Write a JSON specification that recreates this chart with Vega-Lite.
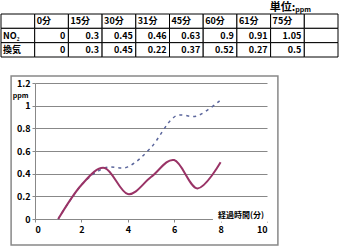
{
  "$schema": "https://vega.github.io/schema/vega-lite/v6.json",
  "padding": {"top": 2, "left": 0, "right": 0, "bottom": 0},
  "spacing": 17,
  "config": {"view": {"stroke": null}, "font": "Noto Sans CJK JP", "axisY": {"tickCount": 7}},
  "datasets": {
    "table": [
      {"r": "hdr", "c": "c0", "t": ""}, {"r": "hdr", "c": "c1", "t": "0分"}, {"r": "hdr", "c": "c2", "t": "15分"}, {"r": "hdr", "c": "c3", "t": "30分"}, {"r": "hdr", "c": "c4", "t": "31分"}, {"r": "hdr", "c": "c5", "t": "45分"}, {"r": "hdr", "c": "c6", "t": "60分"}, {"r": "hdr", "c": "c7", "t": "61分"}, {"r": "hdr", "c": "c8", "t": "75分"}, {"r": "hdr", "c": "c9", "t": ""},
      {"r": "no2", "c": "c0", "t": "NO₂"}, {"r": "no2", "c": "c1", "t": "0"}, {"r": "no2", "c": "c2", "t": "0.3"}, {"r": "no2", "c": "c3", "t": "0.45"}, {"r": "no2", "c": "c4", "t": "0.46"}, {"r": "no2", "c": "c5", "t": "0.63"}, {"r": "no2", "c": "c6", "t": "0.9"}, {"r": "no2", "c": "c7", "t": "0.91"}, {"r": "no2", "c": "c8", "t": "1.05"}, {"r": "no2", "c": "c9", "t": ""},
      {"r": "kan", "c": "c0", "t": "換気"}, {"r": "kan", "c": "c1", "t": "0"}, {"r": "kan", "c": "c2", "t": "0.3"}, {"r": "kan", "c": "c3", "t": "0.45"}, {"r": "kan", "c": "c4", "t": "0.22"}, {"r": "kan", "c": "c5", "t": "0.37"}, {"r": "kan", "c": "c6", "t": "0.52"}, {"r": "kan", "c": "c7", "t": "0.27"}, {"r": "kan", "c": "c8", "t": "0.5"}, {"r": "kan", "c": "c9", "t": ""}
    ],
    "series": [
      {"s": "NO2", "x": 1, "v": 0}, {"s": "NO2", "x": 2, "v": 0.3}, {"s": "NO2", "x": 3, "v": 0.45}, {"s": "NO2", "x": 4, "v": 0.46}, {"s": "NO2", "x": 5, "v": 0.63}, {"s": "NO2", "x": 6, "v": 0.9}, {"s": "NO2", "x": 7, "v": 0.91}, {"s": "NO2", "x": 8, "v": 1.05},
      {"s": "換気", "x": 1, "v": 0}, {"s": "換気", "x": 2, "v": 0.3}, {"s": "換気", "x": 3, "v": 0.45}, {"s": "換気", "x": 4, "v": 0.22}, {"s": "換気", "x": 5, "v": 0.37}, {"s": "換気", "x": 6, "v": 0.52}, {"s": "換気", "x": 7, "v": 0.27}, {"s": "換気", "x": 8, "v": 0.5}
    ]
  },
  "vconcat": [
    {
      "width": 303,
      "height": 43,
      "data": {"name": "table"},
      "encoding": {
        "x": {"field": "c", "type": "nominal", "sort": ["c0","c1","c2","c3","c4","c5","c6","c7","c8","c9"], "scale": {"paddingInner": 0, "paddingOuter": 0, "range": [-34, 303]}, "axis": null},
        "y": {"field": "r", "type": "nominal", "sort": ["hdr","no2","kan"], "scale": {"paddingInner": 0, "paddingOuter": 0}, "axis": null}
      },
      "layer": [
        {"mark": {"type": "rect", "fill": "white", "stroke": "black", "strokeWidth": 1, "clip": false}},
        {
          "transform": [{"filter": "datum.r == 'hdr' || datum.c == 'c0'"}],
          "mark": {"type": "text", "align": "left", "dx": 2, "fontSize": 9, "fontWeight": "bold", "color": "black"},
          "encoding": {
            "x": {"field": "c", "type": "nominal", "bandPosition": 0, "sort": ["c0","c1","c2","c3","c4","c5","c6","c7","c8","c9"]},
            "text": {"field": "t"}
          }
        },
        {
          "transform": [{"filter": "datum.r != 'hdr' && datum.c != 'c0'"}],
          "mark": {"type": "text", "align": "right", "dx": -3, "fontSize": 9, "fontWeight": "bold", "color": "black"},
          "encoding": {
            "x": {"field": "c", "type": "nominal", "bandPosition": 1, "sort": ["c0","c1","c2","c3","c4","c5","c6","c7","c8","c9"]},
            "text": {"field": "t"}
          }
        },
        {
          "data": {"values": [{"u": "単位:", "c": "c9", "r": "hdr"}]},
          "mark": {"type": "text", "align": "right", "baseline": "bottom", "dx": -9, "dy": -1, "fontSize": 11, "fontWeight": "bold", "color": "black"},
          "encoding": {
            "x": {"field": "c", "type": "nominal", "bandPosition": 0, "sort": ["c0","c1","c2","c3","c4","c5","c6","c7","c8","c9"]},
            "y": {"field": "r", "type": "nominal", "bandPosition": 0, "sort": ["hdr","no2","kan"]},
            "text": {"field": "u"}
          }
        },
        {
          "data": {"values": [{"u": "ppm", "c": "c9", "r": "hdr"}]},
          "mark": {"type": "text", "align": "left", "baseline": "bottom", "dx": -9, "dy": -1, "fontSize": 7, "fontWeight": "bold", "color": "black"},
          "encoding": {
            "x": {"field": "c", "type": "nominal", "bandPosition": 0, "sort": ["c0","c1","c2","c3","c4","c5","c6","c7","c8","c9"]},
            "y": {"field": "r", "type": "nominal", "bandPosition": 0, "sort": ["hdr","no2","kan"]},
            "text": {"field": "u"}
          }
        }
      ]
    },
    {
      "width": 232,
      "height": 136,
      "layer": [
        {
          "data": {"name": "series"},
          "transform": [{"filter": "datum.s == 'NO2'"}],
          "mark": {"type": "line", "interpolate": "cardinal", "stroke": "#5b669c", "strokeWidth": 1.5, "strokeDash": [3, 4]},
          "encoding": {
            "x": {"field": "x", "type": "quantitative", "scale": {"domain": [0, 10]},
              "axis": {"values": [0, 2, 4, 6, 8, 10], "tickCount": 6, "grid": false, "domain": false, "tickSize": 3, "tickColor": "#888888", "labelFontSize": 9, "labelFontWeight": "bold", "labelColor": "black", "labelPadding": 3, "labelOverlap": false, "title": null}},
            "y": {"field": "v", "type": "quantitative", "scale": {"domain": [0, 1.2]},
              "axis": {"values": [0, 0.2, 0.4, 0.6, 0.8, 1, 1.2], "tickCount": 7, "format": "~g", "grid": true, "gridColor": "#888888", "domainColor": "#888888", "tickColor": "#888888", "tickSize": 3, "labelFontSize": 9, "labelFontWeight": "bold", "labelColor": "black", "labelPadding": 2, "labelOverlap": false, "labelBound": false, "labelFlush": false,
                "title": "ppm", "titleAngle": 0, "titleX": -15, "titleY": 12, "titleAlign": "center", "titleBaseline": "middle", "titleFontSize": 7, "titleFontWeight": "bold", "titleColor": "black"}}
          }
        },
        {
          "data": {"name": "series"},
          "transform": [{"filter": "datum.s == '換気'"}],
          "mark": {"type": "line", "interpolate": "cardinal", "stroke": "#993366", "strokeWidth": 2},
          "encoding": {
            "x": {"field": "x", "type": "quantitative"},
            "y": {"field": "v", "type": "quantitative"}
          }
        },
        {
          "data": {"values": [{}]},
          "mark": {"type": "rect", "fill": null, "stroke": "#888888", "strokeWidth": 1.5, "clip": false},
          "encoding": {
            "x": {"datum": -1.03, "type": "quantitative"},
            "x2": {"datum": 10.47},
            "y": {"datum": -0.229, "type": "quantitative"},
            "y2": {"datum": 1.262}
          }
        },
        {
          "data": {"values": [{}]},
          "mark": {"type": "rect", "fill": "white", "clip": false},
          "encoding": {
            "x": {"datum": 7.67, "type": "quantitative"},
            "x2": {"datum": 10.09},
            "y": {"datum": -0.025, "type": "quantitative"},
            "y2": {"datum": 0.07}
          }
        },
        {
          "data": {"values": [{"label": "経過時間(分)"}]},
          "mark": {"type": "text", "fontSize": 8, "fontWeight": "bold", "color": "black", "clip": false},
          "encoding": {
            "x": {"datum": 8.88, "type": "quantitative"},
            "y": {"datum": 0.025, "type": "quantitative"},
            "text": {"field": "label"}
          }
        }
      ]
    }
  ]
}
